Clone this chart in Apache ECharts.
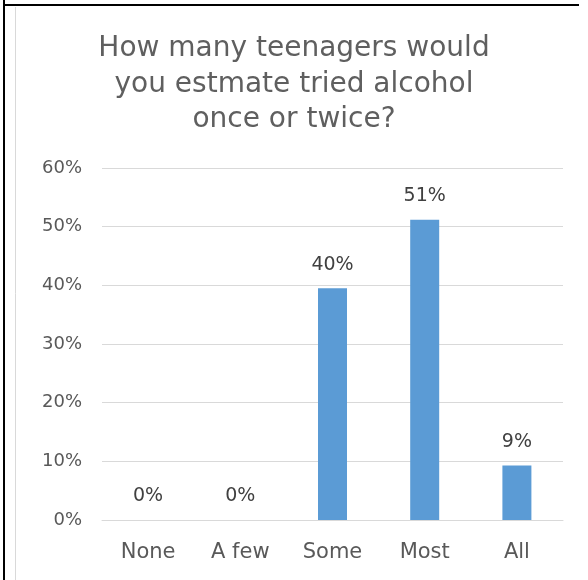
<!DOCTYPE html>
<html><head><meta charset="utf-8">
<script src="https://cdn.jsdelivr.net/npm/echarts@6/dist/echarts.min.js"></script>
<style>html,body{margin:0;padding:0;background:#fff}#c{width:588px;height:580px}</style>
</head><body><div id="c"></div>
<script>
const categories = ['None', 'A few', 'Some', 'Most', 'All'];
const values = [0, 0, 0.395, 0.512, 0.093];
const yTicks = [0, 0.1, 0.2, 0.3, 0.4, 0.5, 0.6];
const titleText = 'How many teenagers would\nyou estmate tried alcohol\nonce or twice?';

const FONT = "'Century Gothic', 'DejaVu Sans', sans-serif";
const W = 'normal';
const chart = echarts.init(document.getElementById('c'), null, {renderer: 'canvas'});
chart.setOption({
  animation: false,
  backgroundColor: '#fff',
  title: {
    text: titleText,
    left: 'center', top: 26,
    textStyle: {fontFamily: FONT, fontSize: 28, fontWeight: W, color: '#5f5f5f', lineHeight: 35.5}
  },
  graphic: [
    {type: 'line', shape: {x1: 4, y1: 0, x2: 4, y2: 580}, style: {stroke: '#000', lineWidth: 2}},
    {type: 'line', shape: {x1: 3, y1: 5, x2: 579, y2: 5}, style: {stroke: '#000', lineWidth: 2}},
    {type: 'line', shape: {x1: 15.5, y1: 7, x2: 15.5, y2: 580}, style: {stroke: '#d9d9d9', lineWidth: 1}}
  ],
  grid: {left: 102, right: 25, top: 168, bottom: 60, containLabel: false},
  xAxis: {
    type: 'category', data: categories,
    axisLine: {show: true, lineStyle: {color: '#d9d9d9', width: 1}},
    axisTick: {show: false},
    axisLabel: {margin: 22, fontFamily: FONT, fontSize: 21, fontWeight: W, color: '#595959'}
  },
  yAxis: {
    type: 'value', min: yTicks[0], max: yTicks[yTicks.length - 1], interval: 0.1,
    axisLine: {show: false}, axisTick: {show: false},
    splitLine: {lineStyle: {color: '#d9d9d9', width: 1}},
    axisLabel: {margin: 20, fontFamily: FONT, fontSize: 18, fontWeight: W, color: '#595959',
      formatter: v => Math.round(v * 100) + '%'}
  },
  series: [{
    type: 'bar', data: values, barWidth: 29,
    itemStyle: {color: '#5b9bd5'},
    label: {show: true, position: 'top', distance: 14, fontFamily: FONT, fontSize: 19, fontWeight: W, color: '#404040',
      formatter: p => Math.round(p.value * 100) + '%'}
  }]
});
</script></body></html>
